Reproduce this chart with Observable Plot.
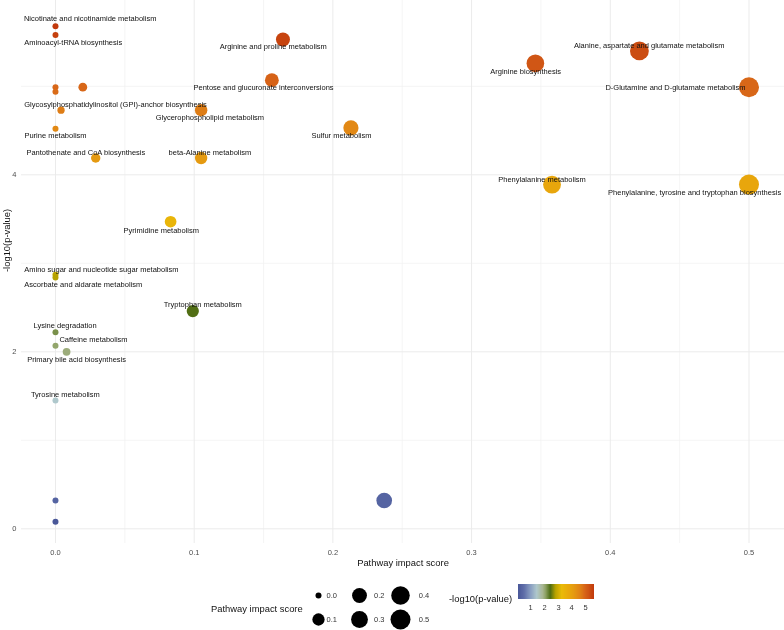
<!DOCTYPE html>
<html><head><meta charset="utf-8">
<script src="https://cdn.jsdelivr.net/npm/d3@7"></script>
<script src="https://cdn.jsdelivr.net/npm/@observablehq/plot@0.6"></script>
<style>
body{margin:0;background:#fff;font-family:"Liberation Sans",Arial,sans-serif;}
#wrap{position:relative;width:784px;height:630px;overflow:hidden;background:#fff;}
.abs{position:absolute;white-space:nowrap;will-change:transform;}
</style></head><body><div id="wrap"></div>
<script>
// ---- data ----
const pathways = [
  "Nicotinate and nicotinamide metabolism",
  "Aminoacyl-tRNA biosynthesis",
  "Arginine and proline metabolism",
  "Alanine, aspartate and glutamate metabolism",
  "Arginine biosynthesis",
  "Pentose and glucuronate interconversions",
  "D-Glutamine and D-glutamate metabolism",
  null, null, null,
  "Glycosylphosphatidylinositol (GPI)-anchor biosynthesis",
  "Glycerophospholipid metabolism",
  "Sulfur metabolism",
  "Purine metabolism",
  "Pantothenate and CoA biosynthesis",
  "beta-Alanine metabolism",
  "Phenylalanine metabolism",
  "Phenylalanine, tyrosine and tryptophan biosynthesis",
  "Pyrimidine metabolism",
  "Amino sugar and nucleotide sugar metabolism",
  "Ascorbate and aldarate metabolism",
  "Tryptophan metabolism",
  "Lysine degradation",
  "Caffeine metabolism",
  "Primary bile acid biosynthesis",
  "Tyrosine metabolism",
  null, null, null
];
const impact = [0, 0, 0.164, 0.421, 0.346, 0.156, 0.500, 0, 0.0197, 0,
  0.004, 0.105, 0.213, 0, 0.029, 0.105, 0.358, 0.500, 0.083,
  0, 0, 0.099, 0, 0, 0.008, 0, 0, 0.237, 0];
const logP = [5.68, 5.58, 5.53, 5.40, 5.26, 5.07, 4.99, 4.99, 4.99, 4.94,
  4.73, 4.73, 4.53, 4.52, 4.19, 4.19, 3.89, 3.89, 3.47,
  2.87, 2.84, 2.46, 2.22, 2.07, 2.00, 1.45, 0.32, 0.32, 0.08];
// repelled label anchors (data units)
const labelX = [0.025, 0.0128, 0.157, 0.428, 0.339, 0.150, 0.447, null, null, null,
  0.0433, 0.1113, 0.2062, 0.0, 0.0219, 0.1113, 0.3508, 0.4608, 0.0763,
  0.0331, 0.0200, 0.1062, 0.0069, 0.0274, 0.0152, 0.0071, null, null, null];
const labelY = [5.76, 5.495, 5.446, 5.466, 5.164, 4.987, 4.991, null, null, null,
  4.799, 4.647, 4.441, 4.441, 4.252, 4.252, 3.947, 3.797, 3.375,
  2.927, 2.757, 2.531, 2.294, 2.136, 1.910, 1.522, null, null, null];

const xMajor = [0, 0.1, 0.2, 0.3, 0.4, 0.5];
const xMinor = [0.05, 0.15, 0.25, 0.35, 0.45];
const yMajor = [0, 2, 4];
const yMinor = [1, 3, 5];
const sizeLegendValues = [0, 0.1, 0.2, 0.3, 0.4, 0.5];
const colorLegendTicks = [1, 2, 3, 4, 5];

// colour ramp stops (value -> colour)
const rampValues = [0.08, 0.5, 1.0, 1.45, 1.9, 2.1, 2.45, 2.85, 3.3, 3.9, 4.2, 4.5, 4.75, 5.0, 5.3, 5.7];
const rampColors = ["#4A5899", "#5E6DA8", "#8A9FC2", "#AFC8CC", "#A8B590", "#8FA366", "#4E6D14", "#B9A300",
  "#EABB08", "#E8A60C", "#E59A10", "#E28A14", "#DE7C16", "#D86618", "#CF5414", "#C1380C"];

// ---- build ----
const FONT = '"Liberation Sans", Arial, sans-serif';
const data = pathways.map((name, i) => ({name, impact: impact[i], logP: logP[i], lx: labelX[i], ly: labelY[i]}));
const [lo, hi] = d3.extent(logP);
const ramp = d3.scaleLinear().domain(rampValues).range(rampColors).interpolate(d3.interpolateRgb).clamp(true);
const colorOpts = {type: "linear", domain: [lo, hi], interpolate: t => ramp(lo + t * (hi - lo))};
const rOpts = {type: "sqrt", domain: [0, 0.5], range: [3, 10]};

const wrap = document.getElementById("wrap");

const chart = Plot.plot({
  width: 784, height: 575,
  marginLeft: 21, marginRight: 0, marginTop: 0, marginBottom: 32,
  style: {fontFamily: FONT, fontSize: "7.5px", color: "#4d4d4d", background: "transparent"},
  x: {domain: [-0.0245, 0.5256], ticks: 6, tickFormat: ".1f", tickSize: 0, tickPadding: 6, label: null},
  y: {domain: [-0.166, 5.97], ticks: 3, tickFormat: "d", tickSize: 0, tickPadding: 5, label: null},
  color: colorOpts,
  r: rOpts,
  marks: [
    Plot.ruleX(xMinor, {stroke: "#F1F1F1", strokeWidth: 0.7}),
    Plot.ruleY(yMinor, {stroke: "#F1F1F1", strokeWidth: 0.7}),
    Plot.ruleX(xMajor, {stroke: "#EBEBEB", strokeWidth: 1}),
    Plot.ruleY(yMajor, {stroke: "#EBEBEB", strokeWidth: 1}),
    Plot.dot(data, {x: "impact", y: "logP", r: "impact", fill: "logP"}),
    Plot.text(data.filter(d => d.name), {x: "lx", y: "ly", text: "name", fontSize: 7.5, fill: "#111"}),
    Plot.text(["Pathway impact score"], {text: d => d, frameAnchor: "bottom", dy: 22, fontSize: 9.4, fill: "#111"}),
    Plot.text(["-log10(p-value)"], {text: d => d, frameAnchor: "left", rotate: -90, dx: -15, fontSize: 9.4, fill: "#111"})
  ]
});
chart.classList.add("abs");
chart.style.left = "0px"; chart.style.top = "0px";
wrap.appendChild(chart);

// size legend
const sizeItems = sizeLegendValues.map((v, i) => ({v, col: Math.floor(i / 2), row: i % 2}));
const labelDx = [8, 14.6, 18.3];
const sizeLegend = Plot.plot({
  width: 140, height: 55, margin: 0,
  style: {fontFamily: FONT, fontSize: "7.5px", background: "transparent"},
  x: {type: "point", domain: [0, 1, 2], range: [12.3, 95], padding: 0, axis: null},
  y: {type: "point", domain: [0, 1], range: [19.7, 44], padding: 0, axis: null},
  r: rOpts,
  marks: [
    Plot.dot(sizeItems, {x: "col", y: "row", r: "v", fill: "black"}),
    ...[0, 1, 2].map(c => Plot.text(sizeItems.filter(d => d.col === c),
      {x: "col", y: "row", text: d => d.v.toFixed(1), dx: labelDx[c], textAnchor: "start", fill: "#333", fontSize: 7.5}))
  ]
});
sizeLegend.classList.add("abs");
sizeLegend.style.left = "305px"; sizeLegend.style.top = "575px";
wrap.appendChild(sizeLegend);

const t1 = document.createElement("div");
t1.className = "abs";
t1.textContent = "Pathway impact score";
Object.assign(t1.style, {left: "211px", top: "603px", fontSize: "9.4px", lineHeight: "11px", color: "#111", fontFamily: FONT});
wrap.appendChild(t1);

const t2 = document.createElement("div");
t2.className = "abs";
t2.textContent = "-log10(p-value)";
Object.assign(t2.style, {left: "448.5px", top: "592.5px", fontSize: "9.4px", lineHeight: "11px", color: "#111", fontFamily: FONT});
wrap.appendChild(t2);

// colour legend
const colorLegend = Plot.legend({
  color: colorOpts,
  width: 76, height: 30,
  marginLeft: 0, marginRight: 0, marginTop: 0, marginBottom: 15,
  ticks: colorLegendTicks, tickFormat: "d", tickSize: 3, label: null,
  style: {fontFamily: FONT, fontSize: "7.5px", color: "#333", background: "transparent", overflow: "visible"}
});
d3.select(colorLegend).selectAll(".tick line").attr("stroke", "none");
colorLegend.classList.add("abs");
colorLegend.style.left = "517.5px"; colorLegend.style.top = "584px";
wrap.appendChild(colorLegend);
</script></body></html>
